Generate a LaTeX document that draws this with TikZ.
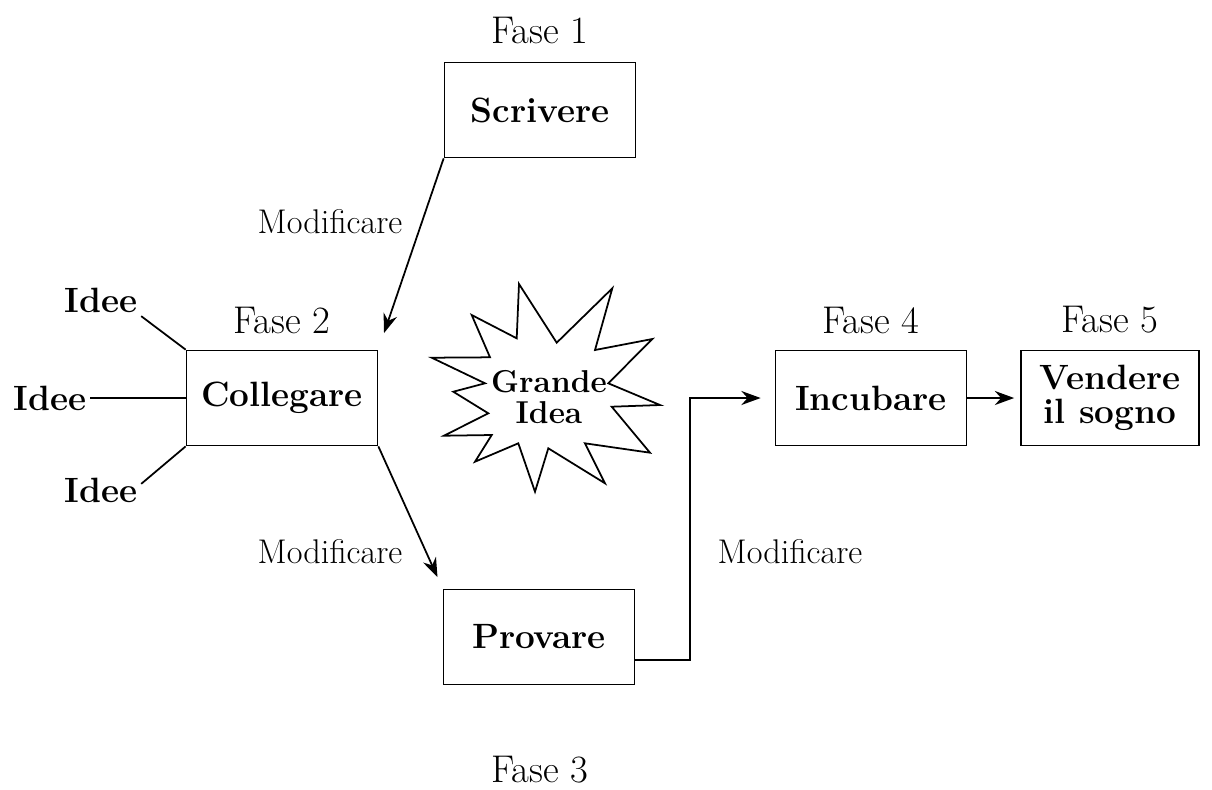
\documentclass[tikz,border=0pt]{standalone}
\usepackage{fontspec}
\usetikzlibrary{arrows.meta}
\tikzset{
  fase/.style={draw, line width=1pt, minimum width=3.82cm, minimum height=1.9cm, align=center, font=\fontsize{20}{19}\selectfont\bfseries},
  faselabel/.style={font=\fontsize{22}{24}\selectfont},
  modlabel/.style={font=\fontsize{19.5}{21}\selectfont},
  idea/.style={font=\fontsize{20}{22}\selectfont\bfseries, inner sep=2pt},
  arr/.style={line width=1pt, -{Stealth[length=11pt, width=8pt]}}
}
\begin{document}
\begin{tikzpicture}[x=0.02cm, y=-0.02cm]
\useasboundingbox (0,0) rectangle (1212,789);
% boxes
\node[fase] (scr) at (540,110) {Scrivere};
\node[fase] (col) at (282,398) {Collegare};
\node[fase] (prov) at (539,637) {Provare};
\node[fase] (inc) at (871,398) {Incubare};
\node[fase, minimum width=3.56cm] (ven) at (1110,398) {Vendere\\il sogno};
\node[faselabel] at (540,30) {Fase 1};
\node[faselabel] at (282,320) {Fase 2};
\node[faselabel] at (540,770) {Fase 3};
\node[faselabel] at (871,320) {Fase 4};
\node[faselabel] at (1110,320) {Fase 5};
% ideas
\node[idea] (i1) at (101,300) {Idee};
\node[idea] (i2) at (50,398) {Idee};
\node[idea] (i3) at (101,490) {Idee};
\draw[line width=1pt] (i1.south east) -- (col.north west);
\draw[line width=1pt] (i2.east) -- (col.west);
\draw[line width=1pt] ([yshift=-0.2cm]i3.north east) -- (col.south west);
% big idea
\draw[line width=1pt] (519,284) -- (556.7,342.7) -- (612.3,288.3) -- (595,350)
  -- (652.3,339) -- (608.3,383.3) -- (660,405) -- (611.7,406.7) -- (650,452.7)
  -- (585,443.3) -- (605,483.3) -- (548.3,448.3) -- (535,491.7) -- (518.3,443.3)
  -- (475,461.7) -- (491.7,435) -- (444,435.7) -- (488.3,413.3) -- (453.3,391.7)
  -- (485,383.3) -- (431.7,357.7) -- (490,357.3) -- (471.7,315) -- (516.7,338.3) -- cycle;
\node[align=center, font=\fontsize{18}{18}\selectfont\bfseries] (big) at (549,397) {Grande\\Idea};
% arrows
\draw[arr, shorten >=0.35cm] (scr.south west) -- (col.north east);
\draw[arr, shorten >=0.25cm] (col.south east) -- (prov.north west);
\draw[arr, shorten >=0.28cm] ([yshift=-0.46cm]prov.east) -- ++(55,0) |- (inc.west);
\draw[arr, shorten >=0.12cm] (inc.east) -- (ven.west);
\node[modlabel] at (330,222) {Modificare};
\node[modlabel] at (330,552) {Modificare};
\node[modlabel] at (790,552) {Modificare};
\end{tikzpicture}
\end{document}
